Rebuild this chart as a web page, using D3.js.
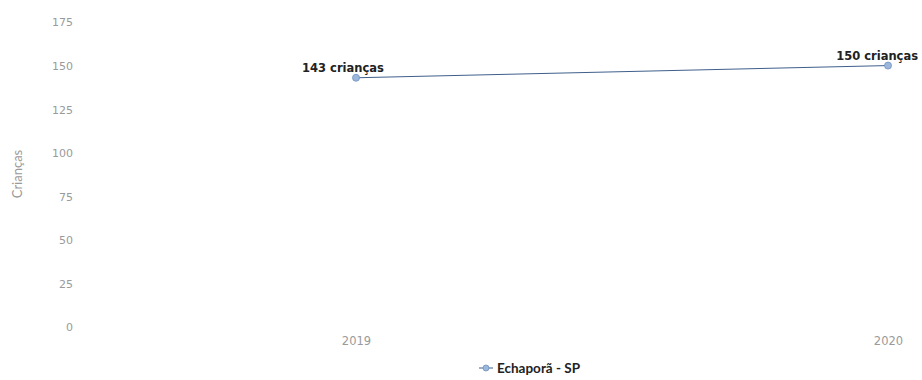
<!DOCTYPE html>
<html>
<head>
<meta charset="utf-8">
<script src="https://cdn.jsdelivr.net/npm/d3@7"></script>
<style>
  body { margin: 0; background: #fff; }
  svg { display: block; font-family: "Lato", "Open Sans", sans-serif; }
</style>
</head>
<body>
<div id="chart"></div>
<script>
// dados
const anos = ["2019", "2020"];
const criancas = [143, 150];
const rotulos = ["143 crianças", "150 crianças"];
const ticksY = [0, 25, 50, 75, 100, 125, 150, 175];
const serie = "Echaporã - SP";

const WIDTH = 922;
const HEIGHT = 380;

const SVG = d3.select("#chart").append("svg")
  .attr("width", WIDTH).attr("height", HEIGHT);

const COR_LINHA = "#3f5f8c";
const COR_PONTO = "#9bb8dc";
const COR_TEXTO = "#9a9a9a";

const escalaX = d3.scalePoint()
  .domain(anos)
  .range([356, 888]);

const escalaY = d3.scaleLinear()
  .domain([0, 175])
  .range([327, 22]);

// eixo Y (so os textos)
const ejeY = d3.axisLeft(escalaY).tickValues(ticksY).tickSize(0).tickPadding(0);
const gY = SVG.append("g")
  .attr("transform", "translate(73,0)")
  .call(ejeY);
gY.select(".domain").remove();
gY.selectAll("text")
  .attr("fill", COR_TEXTO)
  .attr("font-family", "DejaVu Sans")
  .attr("font-size", 11)
  .attr("dy", "0.35em");

// eixo X
const ejeX = d3.axisBottom(escalaX).tickSize(0).tickPadding(0);
const gX = SVG.append("g")
  .attr("transform", "translate(0,337)")
  .call(ejeX);
gX.select(".domain").remove();
gX.selectAll("text")
  .attr("fill", COR_TEXTO)
  .attr("font-family", "DejaVu Sans")
  .attr("font-size", 11.5);

// titulo eixo Y
SVG.append("text")
  .attr("transform", "translate(22,174) rotate(-90)")
  .attr("text-anchor", "middle")
  .attr("fill", COR_TEXTO)
  .attr("font-size", 13)
  .text("Crianças");

const dados = anos.map((a, i) => ({ ano: a, valor: criancas[i], rotulo: rotulos[i] }));

const linea = d3.line()
  .x(d => escalaX(d.ano))
  .y(d => escalaY(d.valor));

SVG.append("path")
  .datum(dados)
  .attr("fill", "none")
  .attr("stroke", COR_LINHA)
  .attr("stroke-width", 1)
  .attr("d", linea);

SVG.selectAll(".ponto")
  .data(dados)
  .join("circle")
  .attr("class", "ponto")
  .attr("cx", d => escalaX(d.ano))
  .attr("cy", d => escalaY(d.valor))
  .attr("r", 3.5)
  .attr("fill", COR_PONTO)
  .attr("stroke", "#6f8fbf")
  .attr("stroke-width", 0.8);

SVG.selectAll(".rotulo")
  .data(dados)
  .join("text")
  .attr("class", "rotulo")
  .attr("x", (d, i) => i === dados.length - 1 ? escalaX(d.ano) + 30 : escalaX(d.ano) - 13)
  .attr("y", d => escalaY(d.valor) - 6)
  .attr("text-anchor", (d, i) => i === dados.length - 1 ? "end" : "middle")
  .attr("fill", "#222")
  .attr("font-family", "DejaVu Sans")
  .attr("font-size", 11.5)
  .attr("font-weight", "bold")
  .text(d => d.rotulo);

// legenda
const leg = SVG.append("g").attr("transform", "translate(479,368)");
leg.append("line")
  .attr("x1", 0).attr("x2", 14).attr("y1", 0).attr("y2", 0)
  .attr("stroke", COR_LINHA).attr("stroke-width", 1);
leg.append("circle")
  .attr("cx", 7).attr("cy", 0).attr("r", 3)
  .attr("fill", COR_PONTO).attr("stroke", "#6f8fbf").attr("stroke-width", 0.8);
leg.append("text")
  .attr("x", 18).attr("dy", "0.35em")
  .attr("fill", "#222")
  .attr("font-size", 13.5)
  .attr("font-weight", "bold")
  .text(serie);
</script>
</body>
</html>
